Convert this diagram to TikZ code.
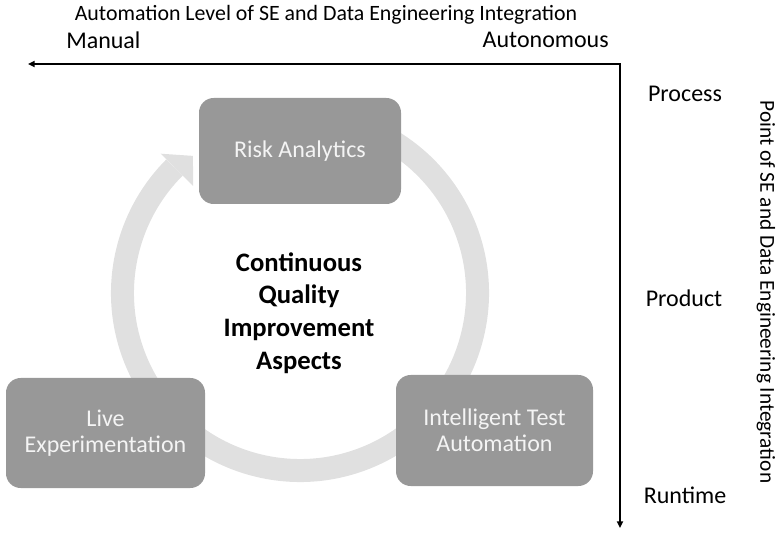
\documentclass[tikz,border=0pt]{standalone}
\usepackage{fontspec}
\setmainfont{Carlito}
\usetikzlibrary{arrows.meta,calc}
\definecolor{boxgray}{HTML}{989898}
\definecolor{ringgray}{HTML}{E0E0E0}
\definecolor{boxtext}{HTML}{F4F4F4}
\begin{document}
\begin{tikzpicture}[x=0.75pt,y=0.75pt,
  aspectbox/.style={fill=boxgray, rounded corners=11pt, text=boxtext, align=center,
    font=\fontsize{18}{19.5}\selectfont, inner sep=0pt},
  axislabel/.style={font=\fontsize{18}{21}\selectfont, inner sep=0pt},
  axistitle/.style={font=\fontsize{16}{19}\selectfont, inner sep=0pt},
  axisline/.style={line width=1.5pt, {Triangle[length=5pt,width=4.5pt]}-{Triangle[length=5pt,width=4.5pt]}},
  ring/.style={draw=ringgray, line width=17.25pt},
  ringhead/.style={fill=ringgray, draw=none}
]
\useasboundingbox (0,0) rectangle (780,535);

% cycle ring behind the three aspects
\coordinate (c) at (300,242);
\draw[ring] ($(c)+(75:177.5)$) arc[start angle=75, end angle=-225, radius=177.5];
\fill[ringhead] ($(c)+(135:151)$) -- ($(c)+(128:174)$) -- ($(c)+(135:197)$) -- cycle;

% the three aspects
\node[aspectbox, minimum width=151.5pt, minimum height=79.5pt] (risk) at (300,384) {Risk Analytics};
\node[aspectbox, minimum width=149.25pt, minimum height=82.5pt] (live) at (105.5,102) {Live\\Experimentation};
\node[aspectbox, minimum width=147.75pt, minimum height=83.25pt] (ita) at (494.5,104.5) {Intelligent Test\\Automation};

% centre caption
\node[align=center, inner sep=0pt, font=\bfseries\fontsize{20}{24.5}\selectfont] (core) at (299,222)
  {Continuous\\Quality\\Improvement\\Aspects};

% axes
\coordinate (corner) at (620,471);
\coordinate (xend) at (28,471);
\coordinate (yend) at (620,7);
\draw[axisline] (xend) -- (corner) -- (yend);

\node[axistitle, font=\fontsize{16.4}{19}\selectfont] (xtitle) at (326,520) {Automation Level of SE and Data Engineering Integration};
\node[axislabel, anchor=west] (manual) at (66,495) {Manual};
\node[axislabel, anchor=east] (auto) at (609,495) {Autonomous};

\node[axislabel] (process) at (685,441) {Process};
\node[axislabel] (product) at (684,237) {Product};
\node[axislabel] (runtime) at (685,40) {Runtime};
\node[axistitle, rotate=-90] (ytitle) at (766,243) {Point of SE and Data Engineering Integration};
\end{tikzpicture}
\end{document}
